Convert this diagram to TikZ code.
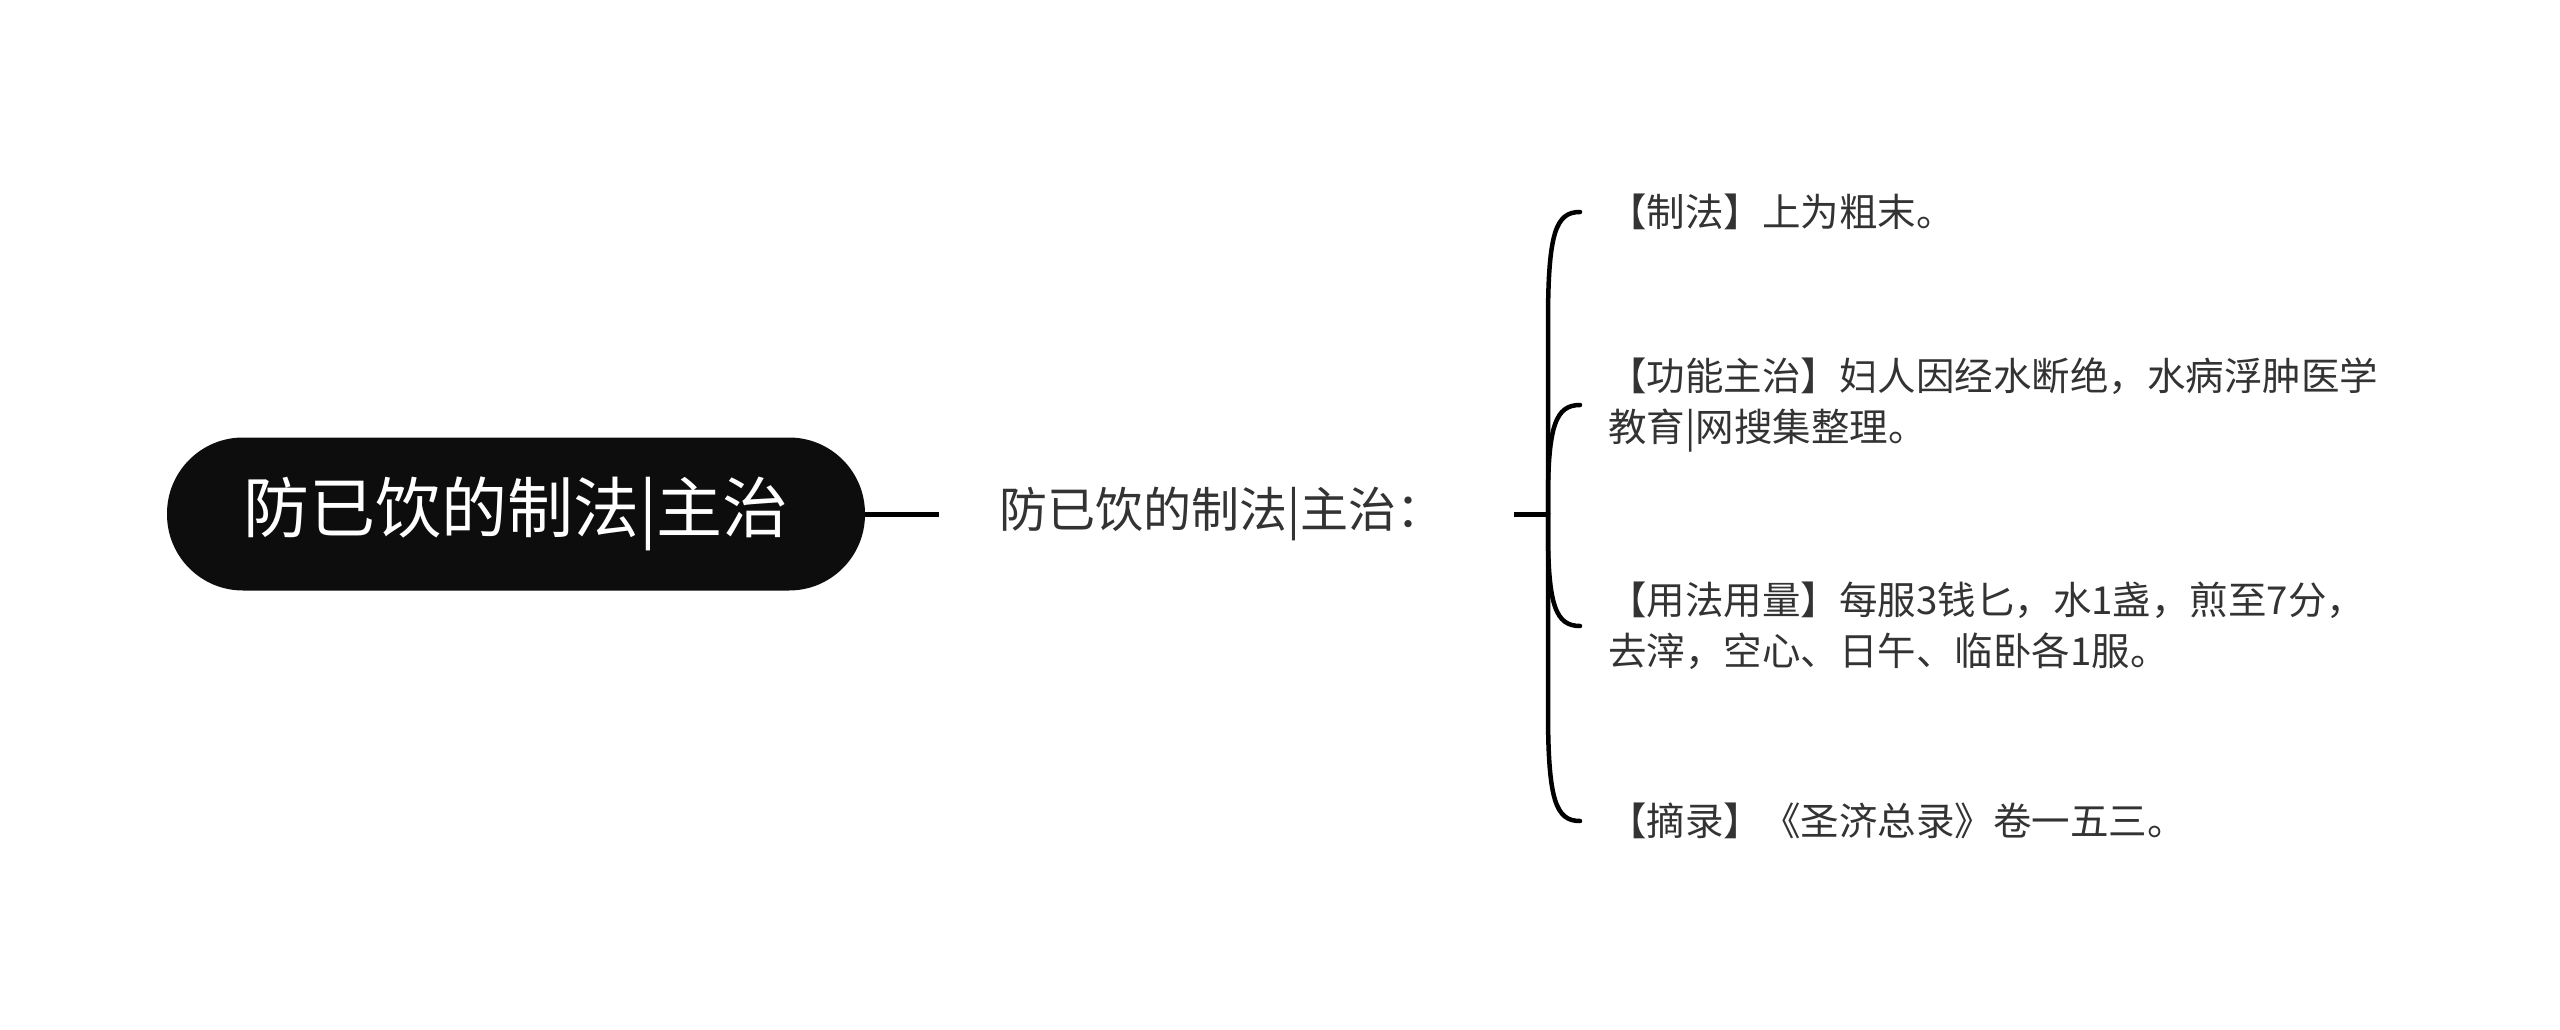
\documentclass[tikz,border=0pt]{standalone}
\usepackage{fontspec}
\setmainfont{Noto Sans CJK SC}
\usetikzlibrary{positioning,calc}
\definecolor{szoveg}{HTML}{333333}
\tikzset{
  gyoker/.style={fill=black!95,text=white,rounded corners=76pt,minimum width=698pt,minimum height=153pt,
                 inner sep=0pt,font=\fontsize{66}{70}\selectfont},
  kozep/.style={text=szoveg,inner xsep=60pt,inner ysep=0pt,font=\fontsize{48}{52}\selectfont},
  level/.style={text=szoveg,anchor=west,align=left,inner xsep=28pt,inner ysep=0pt,
                font=\fontsize{38.5}{51}\selectfont},
  vonal/.style={line width=5pt},
  ag/.style={line width=4.5pt,line cap=round},
}
\begin{document}
\begin{tikzpicture}[x=1pt,y=-1pt]
  \useasboundingbox (0,0) rectangle (2560,1030);
  \node[gyoker] (fo) at (516,514) {防已饮的制法|主治};
  \node[kozep,anchor=west] (mid) at (939,514) {防已饮的制法|主治：};
  \coordinate (hub) at (1548,514);
  \node[level] (l1) at (1580,212) {【制法】上为粗末。};
  \node[level] (l2) at (1580,405) {【功能主治】妇人因经水断绝，水病浮肿医学\\教育|网搜集整理。};
  \node[level] (l3) at (1580,626) {【用法用量】每服3钱匕，水1盏，煎至7分，\\去滓，空心、日午、临卧各1服。};
  \node[level] (l4) at (1580,821) {【摘录】《圣济总录》卷一五三。};
  \draw[vonal] (fo.east) -- (mid.west);
  \draw[vonal] ([xshift=10pt]mid.east) -- (hub);
  \draw[ag] (hub) -- ($(hub |- l1.west)+(0,110)$) .. controls ($(hub |- l1.west)+(0,20)$) and ($(hub |- l1.west)+(8,0)$) .. (l1.west);
  \draw[ag] (hub) -- ($(hub |- l2.west)+(0,95)$) .. controls ($(hub |- l2.west)+(0,20)$) and ($(hub |- l2.west)+(8,0)$) .. (l2.west);
  \draw[ag] (hub) -- ($(hub |- l3.west)+(0,-95)$) .. controls ($(hub |- l3.west)+(0,-20)$) and ($(hub |- l3.west)+(8,0)$) .. (l3.west);
  \draw[ag] (hub) -- ($(hub |- l4.west)+(0,-110)$) .. controls ($(hub |- l4.west)+(0,-20)$) and ($(hub |- l4.west)+(8,0)$) .. (l4.west);
\end{tikzpicture}
\end{document}
